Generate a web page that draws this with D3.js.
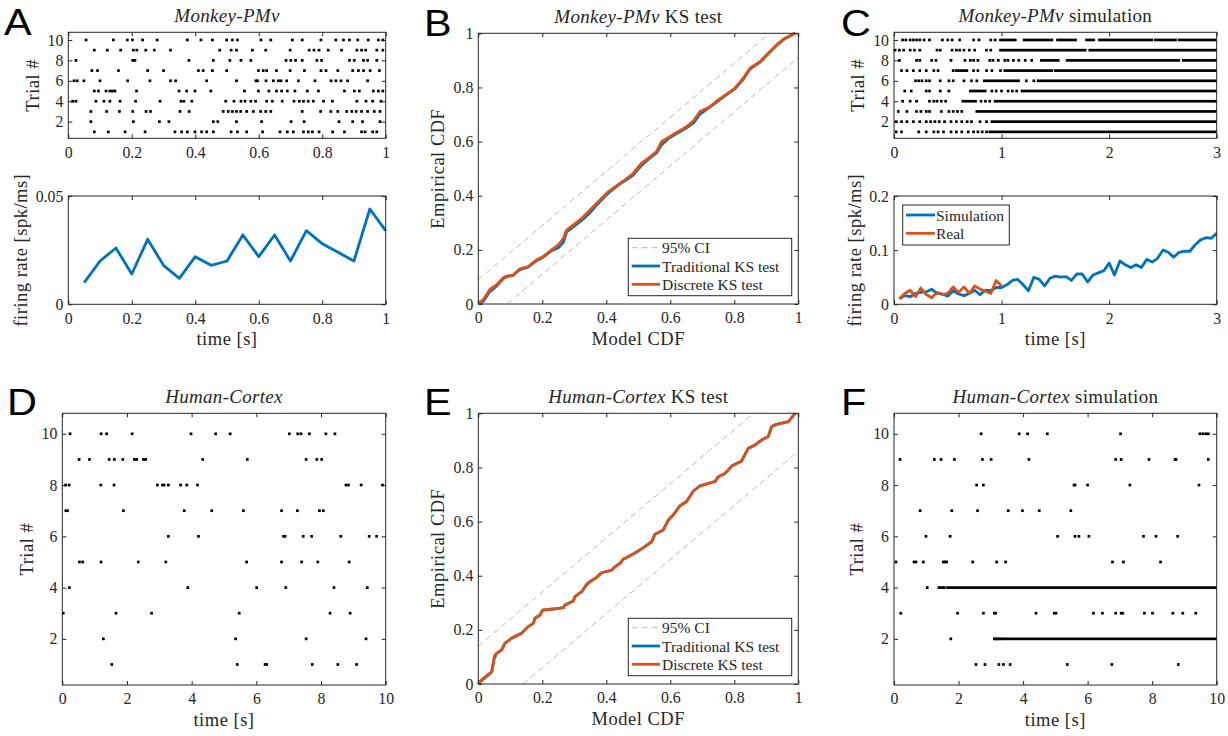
<!DOCTYPE html>
<html>
<head>
<meta charset="utf-8">
<script src="https://cdn.jsdelivr.net/npm/d3@7"></script>
<style>
    body { margin: 0; background: #fff; }
    svg text { font-family: "Liberation Serif", "Times New Roman", serif; fill: #262626; }
</style>
</head>
<body>
<svg id="fig" width="1228" height="736"></svg>
<script>
// ---------- data ----------

// Monkey-PMv spike times [s], one list per trial (trial 1 first)
const rasterA = [
    [.082,.126,.179,.242,.336,.357,.375,.399,.420,.436,.457,.513,.533,.562,.612,.667,.690,.709,.741,.756,.769,.790,.833,.870,.924,.935,.959,.972],
    [.071,.205,.287,.317,.457,.471,.530,.609,.702,.743,.853,.896,.927,.982],
    [.071,.121,.161,.203,.245,.259,.352,.381,.488,.504,.517,.530,.543,.562,.583,.606,.622,.638,.737,.795,.827,.849,.877,.893,.907,.924,.943,.964,.982],
    [.014,.024,.087,.112,.131,.163,.212,.289,.355,.364,.389,.496,.522,.544,.557,.575,.590,.625,.643,.674,.711,.728,.741,.756,.772,.804,.832,.909,.938,.959,.985],
    [.082,.095,.119,.131,.139,.147,.215,.349,.373,.399,.449,.555,.599,.632,.656,.672,.690,.714,.753,.788,.870,.901,.917,.961,.977,.991],
    [.018,.028,.049,.100,.187,.257,.322,.338,.436,.530,.591,.596,.623,.646,.662,.670,.688,.725,.777,.828,.843,.859,.880,.943],
    [.074,.092,.158,.250,.300,.410,.425,.454,.499,.599,.614,.625,.656,.699,.744,.796,.812,.849,.896,.914,.930,.951,.980],
    [.024,.203,.210,.380,.457,.509,.544,.575,.686,.701,.716,.737,.783,.798,.886,.901,.930,.943,.972],
    [.082,.123,.165,.205,.216,.244,.271,.322,.477,.513,.530,.580,.622,.699,.759,.774,.790,.819,.861,.909,.924,.937,.972,.991],
    [.056,.142,.186,.202,.234,.280,.375,.418,.454,.499,.517,.533,.607,.638,.706,.737,.796,.843,.867,.886,.912,.945,.977,.991]
];

// firing rate [spk/ms], 50 ms bins
const binTimesA = [0.05,0.10,0.15,0.20,0.25,0.30,0.35,0.40,0.45,0.50,0.55,0.60,0.65,0.70,0.75,0.80,0.85,0.90,0.95,1.00];
const rateReal = [0.010,0.020,0.026,0.014,0.030,0.018,0.012,0.022,0.018,0.020,0.032,0.022,0.032,0.020,0.034,0.028,0.024,0.020,0.044,0.034];

const binTimesC = [0.05,0.10,0.15,0.20,0.25,0.30,0.35,0.40,0.45,0.50,0.55,0.60,0.65,0.70,0.75,0.80,0.85,0.90,0.95,1.00,
    1.05,1.10,1.15,1.20,1.25,1.30,1.35,1.40,1.45,1.50,1.55,1.60,1.65,1.70,1.75,1.80,1.85,1.90,1.95,2.00,
    2.05,2.10,2.15,2.20,2.25,2.30,2.35,2.40,2.45,2.50,2.55,2.60,2.65,2.70,2.75,2.80,2.85,2.90,2.95,3.00];
const rateSim = [0.010,0.016,0.014,0.020,0.022,0.023,0.028,0.020,0.019,0.015,0.025,0.019,0.016,0.020,0.026,0.018,0.026,0.025,0.031,0.031,
    0.036,0.044,0.046,0.036,0.025,0.050,0.046,0.034,0.048,0.052,0.050,0.051,0.044,0.056,0.056,0.041,0.054,0.058,0.062,0.076,
    0.054,0.080,0.073,0.068,0.073,0.068,0.083,0.078,0.085,0.100,0.096,0.087,0.096,0.098,0.098,0.110,0.119,0.123,0.122,0.131];

// KS plots
const ciB = 0.09;
const bModel = [0,0.016,0.036,0.057,0.078,0.089,0.109,0.130,0.156,0.182,0.203,0.229,0.250,0.266,0.276,0.297,0.323,0.349,0.370,0.396,0.411,0.438,0.458,0.484,0.510,0.531,0.557,0.573,0.594,0.620,0.651,0.672,0.693,0.724,0.750,0.776,0.802,0.828,0.849,0.880,0.906,0.932,0.958,0.990];
const bDiscrete = [0,0.017,0.054,0.070,0.097,0.103,0.107,0.130,0.138,0.163,0.175,0.200,0.218,0.243,0.273,0.292,0.316,0.347,0.372,0.403,0.419,0.442,0.458,0.483,0.520,0.538,0.563,0.600,0.615,0.634,0.655,0.676,0.711,0.729,0.754,0.775,0.797,0.834,0.871,0.895,0.926,0.957,0.982,1.000];
const bTraditional = [0,0.010,0.046,0.066,0.094,0.101,0.106,0.127,0.136,0.160,0.173,0.197,0.208,0.228,0.266,0.285,0.309,0.337,0.366,0.398,0.414,0.440,0.455,0.476,0.512,0.534,0.558,0.588,0.611,0.630,0.651,0.668,0.702,0.727,0.750,0.773,0.795,0.830,0.868,0.893,0.924,0.955,0.980,1.000];

const ciE = 0.14;
const eModel = [0,0.010,0.042,0.050,0.057,0.073,0.083,0.104,0.135,0.156,0.172,0.177,0.193,0.201,0.234,0.266,0.271,0.297,0.302,0.323,0.339,0.349,0.370,0.385,0.417,0.427,0.443,0.453,0.484,0.516,0.542,0.552,0.578,0.594,0.609,0.630,0.651,0.672,0.693,0.714,0.740,0.750,0.771,0.792,0.823,0.844,0.865,0.885,0.906,0.917,0.932,0.969,0.990];
const eDiscrete = [0,0.015,0.046,0.103,0.113,0.126,0.150,0.169,0.187,0.212,0.224,0.243,0.255,0.273,0.277,0.282,0.292,0.307,0.323,0.341,0.368,0.378,0.394,0.411,0.421,0.433,0.446,0.461,0.480,0.504,0.526,0.553,0.569,0.606,0.624,0.658,0.674,0.713,0.732,0.739,0.748,0.766,0.778,0.805,0.824,0.871,0.883,0.901,0.914,0.951,0.959,0.969,1.000];
const eTraditional = [0,0.012,0.044,0.095,0.112,0.126,0.150,0.169,0.187,0.212,0.224,0.243,0.255,0.273,0.277,0.282,0.292,0.307,0.323,0.341,0.368,0.378,0.394,0.411,0.421,0.433,0.446,0.461,0.480,0.504,0.526,0.553,0.569,0.606,0.624,0.658,0.674,0.713,0.732,0.739,0.748,0.766,0.778,0.805,0.824,0.871,0.883,0.901,0.914,0.951,0.959,0.969,1.000];

// Monkey-PMv simulation raster: isolated spikes plus dense runs [trial, start, end]
const rasterC = [
    [.02,.07,.23,.30,.37,.41,.46,.53,.58,.63,.69,.74,.78,.82,.86],
    [.02,.07,.12,.18,.24,.30,.34,.38,.42,.47,.53,.58,.63,.68,.72,.80,.86],
    [.04,.12,.21,.25,.30,.33,.44,.51,.55,.59,.63],
    [.08,.15,.21,.33,.37,.40,.44,.48,.81,.85,.89],
    [.10,.16,.30,.33,.43,.51,.91,.95,1.00,1.06,1.10,1.14],
    [.20,.23,.26,.30,.33,.43,.51,.55,.65,.72,.77,1.23,1.30],
    [.07,.12,.18,.24,.30,.37,.41,.55,.74,.78,.86,.91,.99],
    [.05,.21,.24,.35,.39,.53,.66,.71,.74,.78,.89,.92,.97,1.03,1.06,1.11,1.16,1.22,1.28],
    [.01,.05,.09,.15,.19,.24,.40,.43,.54,.58,.61,.65,.70,.75,.86,.90],
    [.08,.11,.15,.18,.21,.24,.28,.33,.45,.50,.54,.61,.74,.79,.90,.94]
];
const runsC = [
    [1,.89,3],[2,.91,3],[3,.77,3],[4,.64,.77],[4,.94,3],[5,.71,.86],[5,1.19,3],
    [6,.84,1.17],[6,1.34,3],[7,.58,.69],[7,1.03,1.48],[7,1.50,3],
    [8,1.37,1.54],[8,1.61,2.66],[8,2.69,3],[9,.99,1.79],[9,1.82,3],
    [10,.99,1.14],[10,1.21,1.48],[10,1.52,1.70],[10,1.79,1.87],[10,1.91,2.41],[10,2.43,2.63],[10,2.65,3]
];

// Human-Cortex spike times [s]
const rasterD = [
    [1.53,5.41,6.27,6.32,7.73,8.52,9.10],
    [1.27,5.36,7.54,9.39],
    [0.03,1.66,2.76,5.47,8.28,8.90],
    [0.22,3.88,6.01,6.91,8.40,9.43],
    [0.53,0.63,1.20,2.35,3.20,5.70,6.78,7.40,7.90,8.87],
    [3.28,4.21,6.84,6.89,7.45,7.71,8.61,9.49,9.72],
    [0.11,0.16,1.89,3.77,4.62,5.60,6.78,7.27,7.95,8.07],
    [0.10,0.21,1.19,1.60,2.94,3.10,3.15,3.28,3.66,3.85,4.18,8.77,8.85,9.24,9.90],
    [0.52,0.84,1.45,1.61,1.87,2.23,2.30,2.51,2.58,4.34,5.72,7.54,7.87,8.02],
    [0.24,1.20,1.37,2.16,3.98,4.74,5.19,7.02,7.28,7.38,7.64,8.15,8.43]
];

// Human-Cortex simulation
const rasterF = [
    [2.54,2.82,3.25,3.39,3.60,5.37,6.75,8.81],
    [1.76,3.11,3.15,3.20,3.25,3.31],
    [0.21,1.97,2.77,3.11,3.15,4.40,4.97,5.02,6.18,6.46,6.87,7.04,7.09,7.76,8.01,8.64,8.95,9.35],
    [1.03,1.39,1.45,1.50,1.56],
    [0.06,0.62,0.68,0.91,1.53,1.58,1.63,2.44,3.18,3.46,6.77,7.11,8.26],
    [0.99,1.74,5.07,5.61,5.73,6.04,7.73,8.12,8.79],
    [0.81,1.79,2.59,3.54,3.98,4.50,5.48],
    [2.56,2.77,5.58,5.61,6.00,7.31,9.45],
    [0.19,1.25,1.46,1.87,2.74,3.01,4.18,6.87,7.04,7.90,8.71,8.74,9.74],
    [2.70,3.88,4.14,4.75,7.02,9.48,9.57,9.66,9.74]
];
const runsF = [[2,3.37,10],[4,1.66,10]];

const trialTicks = [2,4,6,8,10];
const unitTicks = [0,0.2,0.4,0.6,0.8,1];

// ---------- drawing ----------
const BLUE = '#0072BD', ORANGE = '#D95319', INK = '#262626', CI_GREY = '#bdbdbd';
const svg = d3.select('#fig');
const fmt = d3.format('~g');

function makePanel(cfg) {
    const w = cfg.x1 - cfg.x0, h = cfg.y1 - cfg.y0;
    const g = svg.append('g').attr('transform', `translate(${cfg.x0},${cfg.y0})`);
    const x = d3.scaleLinear().domain(cfg.xDomain).range([0, w]);
    const y = d3.scaleLinear().domain(cfg.yDomain).range([h, 0]);

    const styleAxis = sel => {
        sel.attr('font-size', 15.8).attr('font-family', null);
        sel.select('.domain').remove();
        sel.selectAll('line').attr('stroke', INK);
        sel.selectAll('text').attr('fill', INK);
    };
    g.append('g').attr('transform', `translate(0,${h})`)
        .call(d3.axisBottom(x).tickValues(cfg.xTicks).tickSize(-4).tickPadding(8).tickFormat(fmt)).call(styleAxis);
    g.append('g')
        .call(d3.axisTop(x).tickValues(cfg.xTicks).tickSize(-4).tickFormat('')).call(styleAxis);
    g.append('g')
        .call(d3.axisLeft(y).tickValues(cfg.yTicks).tickSize(-4).tickPadding(5).tickFormat(fmt)).call(styleAxis);
    g.append('g').attr('transform', `translate(${w},0)`)
        .call(d3.axisRight(y).tickValues(cfg.yTicks).tickSize(-4).tickFormat('')).call(styleAxis);

    const plot = g.append('g');

    g.append('rect')
        .attr('width', w).attr('height', h)
        .attr('fill', 'none').attr('stroke', INK).attr('stroke-width', 1);

    if (cfg.title) {
        const t = g.append('text')
            .attr('x', w / 2).attr('y', -10)
            .attr('text-anchor', 'middle').attr('font-size', 19)
            .attr('letter-spacing', 0.3);
        t.append('tspan').attr('font-style', 'italic').text(cfg.title[0]);
        if (cfg.title[1]) t.append('tspan').text(cfg.title[1]);
    }
    if (cfg.xLabel) {
        g.append('text')
            .attr('x', w / 2).attr('y', h + 41)
            .attr('text-anchor', 'middle').attr('font-size', 18.5)
            .attr('letter-spacing', 0.5)
            .text(cfg.xLabel);
    }
    if (cfg.yLabel) {
        g.append('text')
            .attr('transform', `translate(${-cfg.yLabelOff},${h / 2}) rotate(-90)`)
            .attr('text-anchor', 'middle').attr('dy', '0.35em').attr('font-size', 18.5)
            .attr('letter-spacing', 0.5)
            .text(cfg.yLabel);
    }
    return {g: plot, x, y, w, h};
}

function drawRaster(p, trials, runs) {
    const s = 2.7;
    trials.forEach((spikes, i) => {
        p.g.selectAll(null)
            .data(spikes)
            .enter().append('rect')
            .attr('x', d => p.x(d) - s / 2)
            .attr('y', p.y(i + 1) - s / 2)
            .attr('width', s).attr('height', s)
            .attr('fill', '#000');
    });
    if (runs) {
        p.g.selectAll(null)
            .data(runs)
            .enter().append('rect')
            .attr('x', d => p.x(d[1]) - s / 2)
            .attr('y', d => p.y(d[0]) - s / 2)
            .attr('width', d => p.x(d[2]) - p.x(d[1]) + s / 2)
            .attr('height', s)
            .attr('fill', '#000');
    }
}

function drawLine(p, xs, ys, color) {
    const line = d3.line().x(d => p.x(d[0])).y(d => p.y(d[1]));
    p.g.append('path')
        .datum(xs.map((v, i) => [v, ys[i]]))
        .attr('d', line)
        .attr('fill', 'none')
        .attr('stroke', color)
        .attr('stroke-width', 2.8)
        .attr('stroke-linejoin', 'round');
}

function drawCI(p, ci) {
    [[[0, ci], [1 - ci, 1]], [[ci, 0], [1, 1 - ci]]].forEach(seg => {
        p.g.append('line')
            .attr('x1', p.x(seg[0][0])).attr('y1', p.y(seg[0][1]))
            .attr('x2', p.x(seg[1][0])).attr('y2', p.y(seg[1][1]))
            .attr('stroke', CI_GREY).attr('stroke-width', 1)
            .attr('stroke-dasharray', '6,4');
    });
}

function drawLegend(box, items) {
    const lg = svg.append('g');
    lg.append('rect')
        .attr('x', box.x).attr('y', box.y).attr('width', box.w).attr('height', box.h)
        .attr('fill', '#fff').attr('stroke', INK).attr('stroke-width', 1);
    items.forEach((it, i) => {
        const cy = box.rows[i];
        lg.append('line')
            .attr('x1', box.lx0).attr('x2', box.lx1).attr('y1', cy).attr('y2', cy)
            .attr('stroke', it.color)
            .attr('stroke-width', it.dash ? 1 : 2.8)
            .attr('stroke-dasharray', it.dash ? '6,4' : null);
        lg.append('text')
            .attr('x', box.tx).attr('y', cy + 5.5)
            .attr('font-size', 15.5)
            .text(it.label);
    });
}

function panelLetter(letter, x, y) {
    svg.append('text')
        .attr('transform', `translate(${x},${y}) scale(1.12,1)`)
        .attr('font-size', 37)
        .style('fill', '#000')
        .style('font-family', '"Liberation Sans", Arial, sans-serif')
        .text(letter);
}

// A: Monkey-PMv raster + firing rate
const pA1 = makePanel({x0: 68.3, x1: 385.7, y0: 32.3, y1: 138.3, xDomain: [0, 1], yDomain: [0.37, 10.75],
    xTicks: unitTicks, yTicks: trialTicks, title: ['Monkey-PMv'], yLabel: 'Trial #', yLabelOff: 36});
drawRaster(pA1, rasterA);

const pA2 = makePanel({x0: 68.3, x1: 385.7, y0: 196, y1: 304.3, xDomain: [0, 1], yDomain: [0, 0.05],
    xTicks: unitTicks, yTicks: [0, 0.05], xLabel: 'time [s]', yLabel: 'firing rate [spk/ms]', yLabelOff: 48});
drawLine(pA2, binTimesA, rateReal, BLUE);

// B: Monkey-PMv KS test
const pB = makePanel({x0: 478.3, x1: 798.3, y0: 33.3, y1: 304, xDomain: [0, 1], yDomain: [0, 1],
    xTicks: unitTicks, yTicks: unitTicks, title: ['Monkey-PMv', ' KS test'],
    xLabel: 'Model CDF', yLabel: 'Empirical CDF', yLabelOff: 41});
drawCI(pB, ciB);
drawLine(pB, bModel, bTraditional, BLUE);
drawLine(pB, bModel, bDiscrete, ORANGE);

// C: Monkey-PMv simulation
const pC1 = makePanel({x0: 894, x1: 1216.7, y0: 32.3, y1: 138.3, xDomain: [0, 3], yDomain: [0.37, 10.75],
    xTicks: [0, 1, 2, 3], yTicks: trialTicks, title: ['Monkey-PMv', ' simulation'], yLabel: 'Trial #', yLabelOff: 36});
drawRaster(pC1, rasterC, runsC);

const pC2 = makePanel({x0: 894, x1: 1216.7, y0: 196, y1: 304.3, xDomain: [0, 3], yDomain: [0, 0.2],
    xTicks: [0, 1, 2, 3], yTicks: [0, 0.1, 0.2], xLabel: 'time [s]', yLabel: 'firing rate [spk/ms]', yLabelOff: 39});
drawLine(pC2, binTimesC, rateSim, BLUE);
drawLine(pC2, binTimesA, rateReal, ORANGE);

// D: Human-Cortex raster
const pD = makePanel({x0: 62.3, x1: 385.7, y0: 413.3, y1: 685, xDomain: [0, 10], yDomain: [0.2, 10.8],
    xTicks: [0, 2, 4, 6, 8, 10], yTicks: trialTicks, title: ['Human-Cortex'],
    xLabel: 'time [s]', yLabel: 'Trial #', yLabelOff: 36});
drawRaster(pD, rasterD);

// E: Human-Cortex KS test
const pE = makePanel({x0: 478.3, x1: 798.3, y0: 413.3, y1: 684, xDomain: [0, 1], yDomain: [0, 1],
    xTicks: unitTicks, yTicks: unitTicks, title: ['Human-Cortex', ' KS test'],
    xLabel: 'Model CDF', yLabel: 'Empirical CDF', yLabelOff: 41});
drawCI(pE, ciE);
drawLine(pE, eModel, eTraditional, BLUE);
drawLine(pE, eModel, eDiscrete, ORANGE);

// F: Human-Cortex simulation
const pF = makePanel({x0: 894, x1: 1216.7, y0: 413.3, y1: 685, xDomain: [0, 10], yDomain: [0.2, 10.8],
    xTicks: [0, 2, 4, 6, 8, 10], yTicks: trialTicks, title: ['Human-Cortex', ' simulation'],
    xLabel: 'time [s]', yLabel: 'Trial #', yLabelOff: 37});
drawRaster(pF, rasterF, runsF);

// legends
const ksItems = [
    {label: '95% CI', color: CI_GREY, dash: true},
    {label: 'Traditional KS test', color: BLUE},
    {label: 'Discrete KS test', color: ORANGE}
];
drawLegend({x: 628.3, y: 238.3, w: 163.4, h: 57.4, lx0: 631.7, lx1: 660, tx: 662, rows: [247.7, 266, 284.3]}, ksItems);
drawLegend({x: 628.3, y: 618.3, w: 163.4, h: 57.4, lx0: 631.7, lx1: 660, tx: 662, rows: [627.7, 646, 664.3]}, ksItems);
drawLegend({x: 902.7, y: 205, w: 106.6, h: 40, lx0: 906, lx1: 935, tx: 936, rows: [215, 233.3]}, [
    {label: 'Simulation', color: BLUE},
    {label: 'Real', color: ORANGE}
]);

panelLetter('A', 4, 35);
panelLetter('B', 424, 36);
panelLetter('C', 841, 36);
panelLetter('D', 7, 415);
panelLetter('E', 424, 415);
panelLetter('F', 841, 415);
</script>
</body>
</html>
